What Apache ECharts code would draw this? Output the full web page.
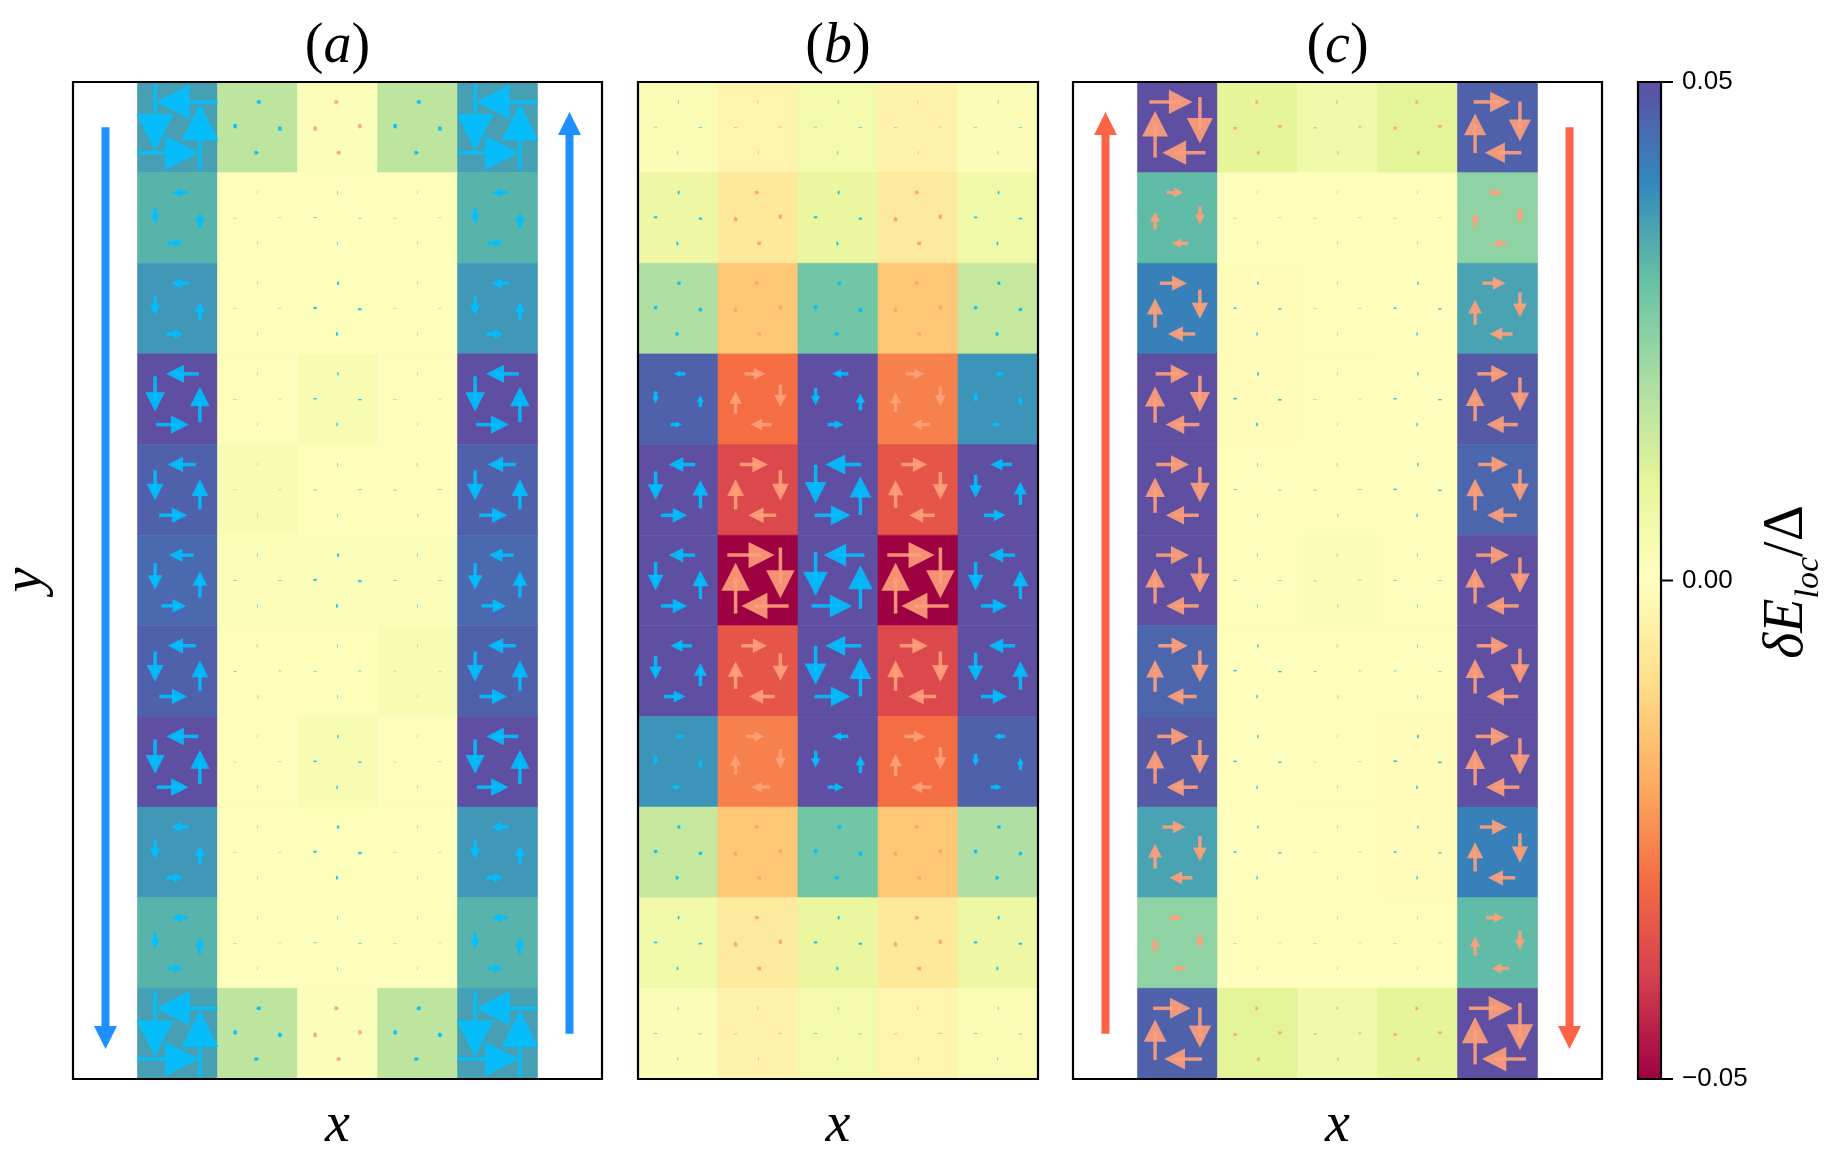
<!DOCTYPE html>
<html><head><meta charset="utf-8">
<script src="https://cdn.jsdelivr.net/npm/echarts/dist/echarts.min.js"></script>
<style>html,body{margin:0;padding:0;background:#fff}#c{width:1827px;height:1155px}</style>
</head><body><div id="c"></div><script>
// ---------------- data (rows listed top -> bottom, 5 columns) ----------------
const panelNames = ['a', 'b', 'c'];
const colorbarTicks = [-0.05, 0.00, 0.05];

// cell values dE_loc/Delta
const valuesA = [
  [0.036, 0.0167, 0.0015, 0.0167, 0.036],
  [0.0326, 0.001, 0.001, 0.001, 0.0326],
  [0.0374, 0.001, 0.0012, 0.001, 0.0374],
  [0.050, 0.001, 0.003, 0.001, 0.050],
  [0.0468, 0.003, 0.0012, 0.001, 0.0468],
  [0.0454, 0.0015, 0.0015, 0.0015, 0.0454],
  [0.0468, 0.001, 0.0012, 0.003, 0.0468],
  [0.050, 0.001, 0.003, 0.001, 0.050],
  [0.0374, 0.001, 0.0012, 0.001, 0.0374],
  [0.0326, 0.001, 0.001, 0.001, 0.0326],
  [0.036, 0.0167, 0.0015, 0.0167, 0.036]
];
const valuesB = [
  [0.0028, -0.0035, 0.005, -0.0038, 0.002],
  [0.0068, -0.007, 0.0084, -0.0068, 0.006],
  [0.0192, -0.015, 0.0286, -0.015, 0.0154],
  [0.0468, -0.030, 0.050, -0.027, 0.038],
  [0.050, -0.0377, 0.050, -0.035, 0.050],
  [0.050, -0.050, 0.050, -0.050, 0.050],
  [0.050, -0.035, 0.050, -0.0377, 0.050],
  [0.038, -0.027, 0.050, -0.030, 0.0468],
  [0.0154, -0.015, 0.0286, -0.015, 0.0192],
  [0.006, -0.0068, 0.0084, -0.007, 0.0068],
  [0.002, -0.0038, 0.005, -0.0035, 0.0028]
];
const valuesC = [
  [0.050, 0.010, 0.0055, 0.0105, 0.0468],
  [0.031, 0.001, 0.001, 0.001, 0.024],
  [0.0414, -0.0012, 0.001, -0.0005, 0.0353],
  [0.050, -0.001, 0.001, 0.0005, 0.048],
  [0.050, 0.001, 0.001, 0.001, 0.046],
  [0.050, 0.001, 0.002, 0.001, 0.050],
  [0.046, 0.001, 0.001, 0.001, 0.050],
  [0.048, 0.0005, 0.001, -0.001, 0.050],
  [0.0353, -0.0005, 0.001, -0.0012, 0.0414],
  [0.024, 0.001, 0.001, 0.001, 0.031],
  [0.0468, 0.0105, 0.0055, 0.010, 0.050]
];
// plaquette circulation (arrow length, cell units); + counter-clockwise, - clockwise
const circA = [
  [0.77, 0.06, -0.06, 0.06, 0.77],
  [0.19, -0.01, 0.01, -0.01, 0.19],
  [0.22, -0.005, 0.03, -0.005, 0.22],
  [0.41, -0.01, 0.02, -0.01, 0.41],
  [0.35, -0.004, 0.004, -0.015, 0.35],
  [0.31, 0.004, 0.03, 0.004, 0.31],
  [0.35, -0.015, 0.004, -0.004, 0.35],
  [0.40, -0.01, 0.02, -0.01, 0.40],
  [0.22, -0.005, 0.03, -0.005, 0.22],
  [0.20, -0.01, 0.01, -0.01, 0.20],
  [0.77, 0.06, -0.06, 0.06, 0.77]
];
const circB = [
  [0.01, -0.012, 0.01, -0.012, 0.008],
  [0.03, -0.06, 0.03, -0.06, 0.025],
  [0.05, -0.06, 0.06, -0.06, 0.045],
  [0.14, -0.26, 0.20, -0.23, 0.10],
  [0.33, -0.35, 0.45, -0.32, 0.27],
  [0.33, -0.59, 0.51, -0.59, 0.33],
  [0.27, -0.32, 0.45, -0.35, 0.33],
  [0.10, -0.23, 0.20, -0.26, 0.14],
  [0.045, -0.06, 0.06, -0.06, 0.05],
  [0.025, -0.06, 0.03, -0.06, 0.03],
  [0.008, -0.012, 0.01, -0.012, 0.01]
];
const circC = [
  [-0.54, -0.04, -0.02, -0.04, -0.46],
  [-0.21, -0.01, -0.01, -0.01, -0.17],
  [-0.34, 0.02, -0.01, 0.02, -0.29],
  [-0.42, 0.025, -0.01, 0.02, -0.39],
  [-0.41, 0.008, -0.015, 0.02, -0.37],
  [-0.41, 0.003, -0.015, 0.003, -0.41],
  [-0.37, 0.02, -0.015, 0.008, -0.40],
  [-0.39, 0.02, -0.01, 0.025, -0.42],
  [-0.29, 0.02, -0.01, 0.02, -0.34],
  [-0.165, -0.01, -0.01, -0.01, -0.22],
  [-0.47, -0.04, -0.02, -0.04, -0.55]
];
// edge-current arrows: [x, yFrom, yTo] in data units
const sideArrowsA = [[-0.4, 10.5, 0.33], [5.4, 0.5, 10.67]];
const sideArrowsB = [];
const sideArrowsC = [[-0.4, 0.5, 10.67], [5.4, 10.5, 0.33]];

// ---------------- styling / layout ----------------
const SPECTRAL = ['#9e0142','#d53e4f','#f46d43','#fdae61','#fee08b','#ffffbf','#e6f598','#abdda4','#66c2a5','#3288bd','#5e4fa2'];
const BLUE = '#00bfff', SALMON = '#ffa07a';
const SIDE_COLORS = ['#1e90ff', null, '#ff6347'];
const TOP = 82, H = 997;
const PANELS = [
  {left: 73, width: 529, xmin: -0.806, xmax: 5.806},
  {left: 638, width: 400, xmin: 0, xmax: 5},
  {left: 1073, width: 529, xmin: -0.806, xmax: 5.806}
];
const CBAR = {left: 1638, width: 23};
const NROWS = 11;
const SERIF = 'Liberation Serif';

const valueSets = [valuesA, valuesB, valuesC];
const circSets = [circA, circB, circC];
const sideSets = [sideArrowsA, sideArrowsB, sideArrowsC];

function toCells(arr) {
  const out = [];
  arr.forEach((row, r) => row.forEach((v, c) => out.push([c, NROWS - 1 - r, v])));
  return out;
}

function arrowPolys(pt, ph, sw, hl, hw, shaftEnd, fallbackDir) {
  let dx = ph[0] - pt[0], dy = ph[1] - pt[1];
  let len = Math.hypot(dx, dy);
  let ux, uy;
  if (len < 1e-6) { ux = fallbackDir[0]; uy = fallbackDir[1]; len = 0; }
  else { ux = dx / len; uy = dy / len; }
  const nx = -uy, ny = ux;
  const se = Math.max(len * shaftEnd, 0.6);
  const sx = pt[0] + ux * se, sy = pt[1] + uy * se;
  const shaft = [
    [pt[0] + nx * sw / 2, pt[1] + ny * sw / 2],
    [sx + nx * sw / 2, sy + ny * sw / 2],
    [sx - nx * sw / 2, sy - ny * sw / 2],
    [pt[0] - nx * sw / 2, pt[1] - ny * sw / 2]
  ];
  const bx = ph[0] - ux * hl, by = ph[1] - uy * hl;
  const head = [[bx + nx * hw / 2, by + ny * hw / 2], [ph[0], ph[1]], [bx - nx * hw / 2, by - ny * hw / 2]];
  return [shaft, head];
}

function cellRender(params, api) {
  const x = api.value(0), y = api.value(1);
  const p0 = api.coord([x, y + 1]), p1 = api.coord([x + 1, y]);
  const col = api.visual('color');
  return {type: 'rect', shape: {x: p0[0], y: p0[1], width: p1[0] - p0[0], height: p1[1] - p0[1]},
    style: {fill: col, stroke: col, lineWidth: 0.6}};
}

// arrow anchors inside a plaquette: [ax, ay, dirx, diry] for counter-clockwise circulation
const ANCHORS = [[0.5, 0.78, -1, 0], [0.22, 0.5, 0, -1], [0.78, 0.5, 0, 1], [0.5, 0.22, 1, 0]];
function arrowRender(params, api) {
  const x0 = api.value(0), y0 = api.value(1), m = api.value(2);
  const L = Math.abs(m), s = m >= 0 ? 1 : -1;
  const color = s > 0 ? BLUE : SALMON;
  const children = [];
  ANCHORS.forEach(a => {
    const dx = s * a[2], dy = s * a[3];
    const Ld = a[3] !== 0 ? L * 0.95 : L;
    const cx = x0 + a[0] - 0.15 * Ld * dx, cy = y0 + a[1] - 0.15 * Ld * dy;
    const pt = api.coord([cx - dx * Ld / 2, cy - dy * Ld / 2]);
    const ph = api.coord([cx + dx * Ld / 2, cy + dy * Ld / 2]);
    const lenpx = Math.hypot(ph[0] - pt[0], ph[1] - pt[1]);
    const polys = arrowPolys(pt, ph, 3.5, 0.55 * lenpx, 0.56 * lenpx, 0.72, [dx, -dy]);
    polys.forEach(p => children.push({type: 'polygon', shape: {points: p}, style: {fill: color, opacity: 0.9}}));
  });
  return {type: 'group', children};
}

function sideRender(color) {
  return function (params, api) {
    const x = api.value(0), y1 = api.value(1), y2 = api.value(2);
    const pt = api.coord([x, y1]), ph = api.coord([x, y2]);
    const polys = arrowPolys(pt, ph, 8, 23, 23, 1.0, [0, 1]);
    const dx = ph[0] - pt[0], dy = ph[1] - pt[1], len = Math.hypot(dx, dy);
    const ux = dx / len, uy = dy / len;
    const sEnd = [ph[0] - ux * 22, ph[1] - uy * 22];
    const shaft = arrowPolys(pt, sEnd, 8, 0, 0, 1.0, [0, 1])[0];
    return {type: 'group', children: [
      {type: 'polygon', shape: {points: shaft}, style: {fill: color}},
      {type: 'polygon', shape: {points: polys[1]}, style: {fill: color}}
    ]};
  };
}

// colorbar tick marks, placed through the colorbar axis
function tickRender(params, api) {
  const p = api.coord([1, api.value(0)]);
  return {type: 'line', shape: {x1: p[0], y1: p[1], x2: p[0] + 12, y2: p[1]},
    style: {stroke: '#000', lineWidth: 2}};
}

const grids = [], xAxes = [], yAxes = [], series = [], cellSeriesIdx = [];
PANELS.forEach((p, k) => {
  grids.push({left: p.left, top: TOP, width: p.width, height: H, show: false});
  xAxes.push({type: 'value', gridIndex: k, min: p.xmin, max: p.xmax, show: false});
  yAxes.push({type: 'value', gridIndex: k, min: 0, max: NROWS, show: false});
  cellSeriesIdx.push(series.length);
  series.push({type: 'custom', name: 'cells' + k, xAxisIndex: k, yAxisIndex: k, data: toCells(valueSets[k]),
    encode: {x: 0, y: 1}, renderItem: cellRender, silent: true, z: 1, clip: false});
  series.push({type: 'custom', name: 'arrows' + k, xAxisIndex: k, yAxisIndex: k, data: toCells(circSets[k]),
    encode: {x: 0, y: 1}, renderItem: arrowRender, silent: true, z: 3, clip: false});
  if (sideSets[k].length) {
    series.push({type: 'custom', name: 'side' + k, xAxisIndex: k, yAxisIndex: k, data: sideSets[k],
      encode: {x: 0, y: 1}, renderItem: sideRender(SIDE_COLORS[k]), silent: true, z: 4, clip: false});
  }
});
// colorbar axis
grids.push({left: CBAR.left, top: TOP, width: CBAR.width, height: H, show: false});
xAxes.push({type: 'value', gridIndex: 3, min: 0, max: 1, show: false});
yAxes.push({type: 'value', gridIndex: 3, min: colorbarTicks[0], max: colorbarTicks[colorbarTicks.length - 1],
  interval: colorbarTicks[1] - colorbarTicks[0], position: 'right',
  axisLine: {show: false}, splitLine: {show: false},
  axisTick: {show: true, inside: false, length: 12, lineStyle: {color: '#000', width: 2}},
  axisLabel: {show: true, margin: 21, fontSize: 26, fontFamily: 'Liberation Sans', color: '#000',
    formatter: v => (v < -1e-9 ? '\u2212' : '') + Math.abs(v).toFixed(2)}});
series.push({type: 'custom', name: 'cbticks', xAxisIndex: 3, yAxisIndex: 3,
  data: colorbarTicks.map(v => [v]), encode: {y: 0}, renderItem: tickRender, silent: true, z: 10, clip: false});

const graphics = [];
PANELS.forEach((p, k) => {
  graphics.push({type: 'rect', z: 100, shape: {x: p.left, y: TOP, width: p.width, height: H},
    style: {fill: 'none', stroke: '#000', lineWidth: 2.2}});
  const cx = p.left + p.width / 2;
  graphics.push({type: 'text', z: 100, x: cx, y: 47, style: {
    text: '{p|(}{i|' + panelNames[k] + '}{p|)}', align: 'center', verticalAlign: 'middle',
    rich: {p: {fontFamily: SERIF, fontSize: 56, fill: '#000'}, i: {fontFamily: SERIF, fontStyle: 'italic', fontSize: 56, fill: '#000'}}}});
  graphics.push({type: 'text', z: 100, x: cx, y: 1126, style: {
    text: 'x', align: 'center', verticalAlign: 'middle', fontFamily: SERIF, fontStyle: 'italic', fontSize: 56, fill: '#000'}});
});
graphics.push({type: 'text', z: 100, x: 26, y: 580, rotation: Math.PI / 2, style: {
  text: 'y', align: 'center', verticalAlign: 'middle', fontFamily: SERIF, fontStyle: 'italic', fontSize: 56, fill: '#000'}});
graphics.push({type: 'rect', z: 100, shape: {x: CBAR.left, y: TOP, width: CBAR.width, height: H},
  style: {fill: 'none', stroke: '#000', lineWidth: 2.2}});
graphics.push({type: 'text', z: 100, x: 1793, y: 582, rotation: Math.PI / 2, style: {
  text: '{i|\u03b4E}{s|loc}{u|/\u0394}', align: 'center', verticalAlign: 'middle',
  rich: {
    i: {fontFamily: SERIF, fontStyle: 'italic', fontSize: 56, fill: '#000', padding: [0, 0, 11, 0], verticalAlign: 'bottom'},
    s: {fontFamily: SERIF, fontStyle: 'italic', fontSize: 34, fill: '#000', verticalAlign: 'bottom'},
    u: {fontFamily: SERIF, fontSize: 56, fill: '#000', padding: [0, 0, 11, 0], verticalAlign: 'bottom'}
  }}});

const chart = echarts.init(document.getElementById('c'), null, {renderer: 'canvas'});
chart.setOption({
  animation: false,
  backgroundColor: '#fff',
  grid: grids, xAxis: xAxes, yAxis: yAxes,
  visualMap: {type: 'continuous', min: -0.05, max: 0.05, dimension: 2, seriesIndex: cellSeriesIdx,
    inRange: {color: SPECTRAL}, orient: 'vertical', left: CBAR.left, top: TOP,
    itemWidth: CBAR.width, itemHeight: H, calculable: false, hoverLink: false, padding: 0, text: null,
    showLabel: false},
  series: series,
  graphic: graphics
});
</script></body></html>
